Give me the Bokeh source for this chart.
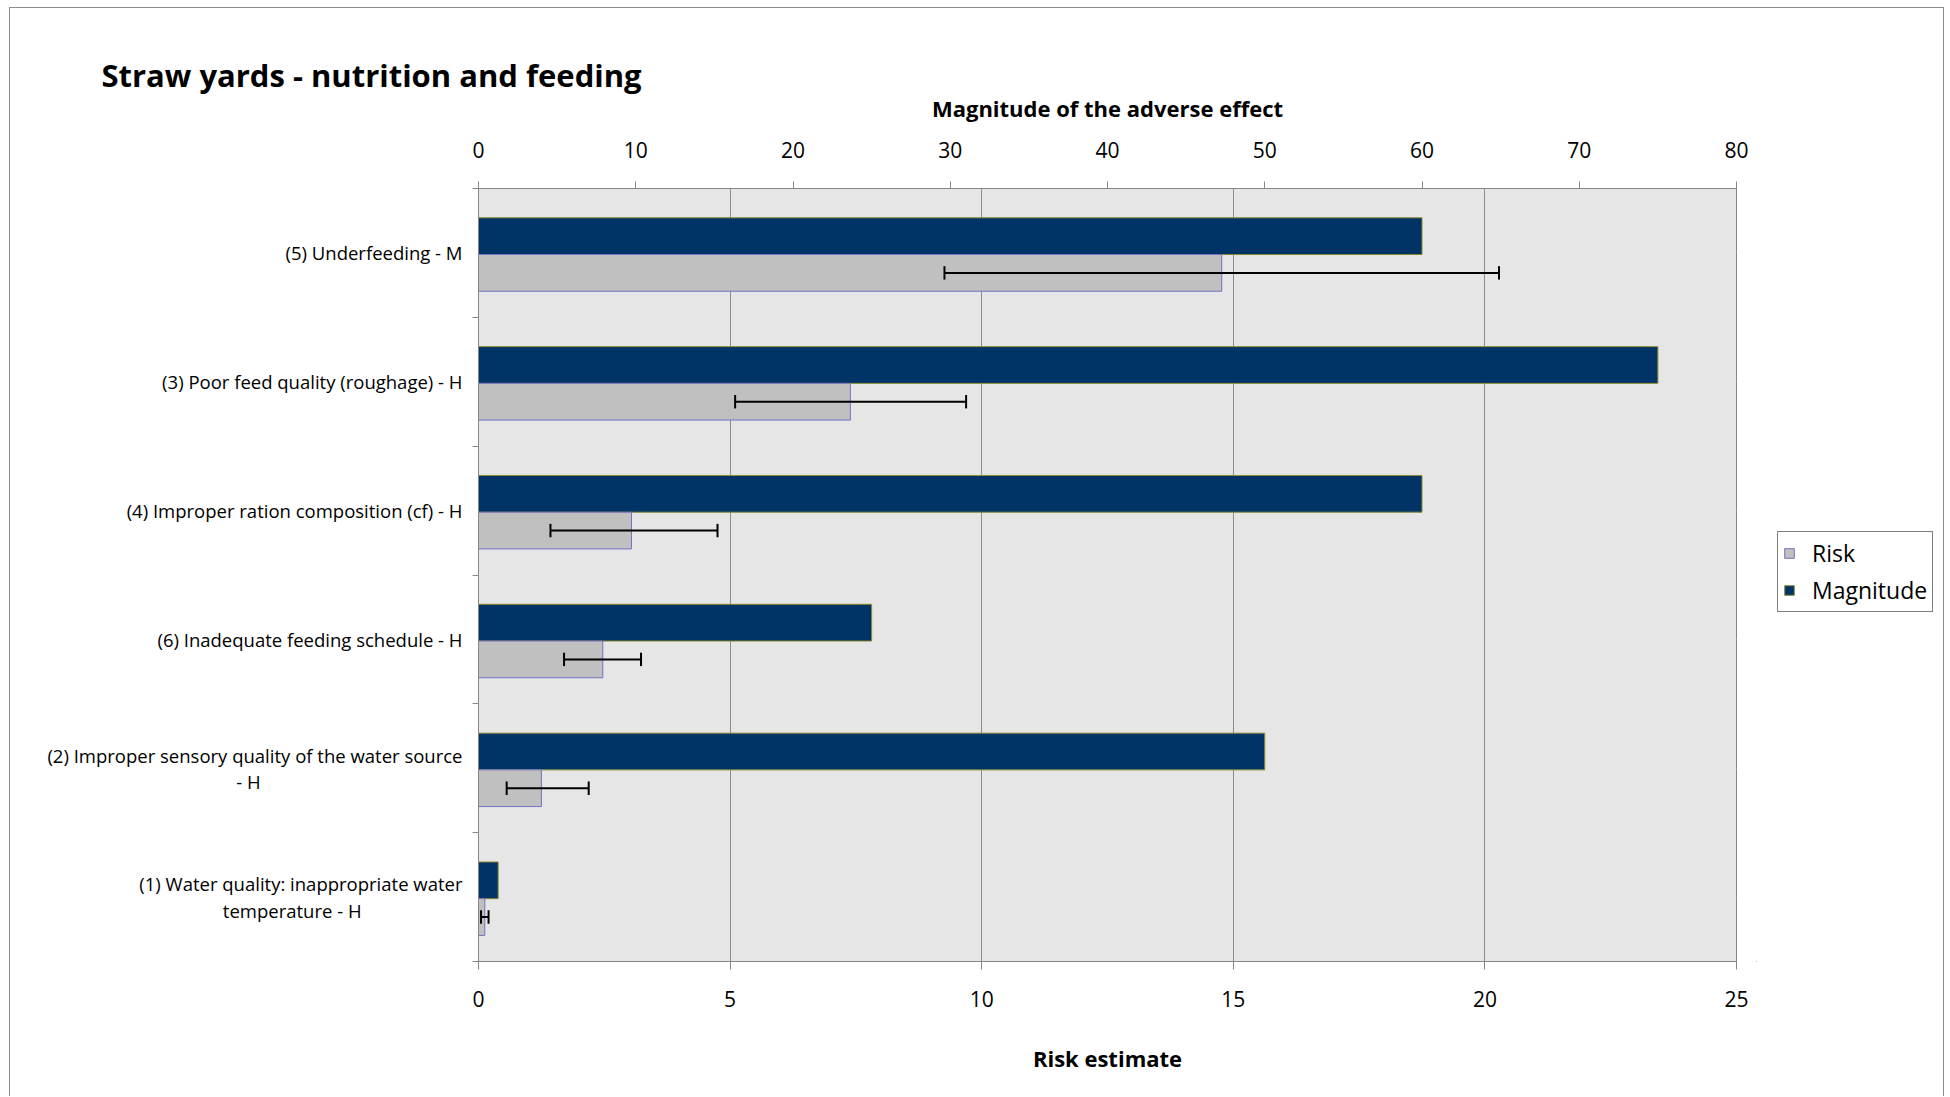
from bokeh.plotting import figure
from bokeh.layouts import row
from bokeh.models import (Range1d, FactorRange, LinearAxis, CategoricalAxis, FixedTicker,
                          Grid, Legend, LegendItem, ColumnDataSource)
from bokeh.transform import dodge
from bokeh.embed import file_html
from bokeh.resources import INLINE

# ---- data (top to bottom as shown) ----
categories = [
    "(5) Underfeeding - M",
    "(3) Poor feed quality (roughage) - H",
    "(4) Improper ration composition (cf) - H",
    "(6) Inadequate feeding schedule - H",
    "(2) Improper sensory quality of the water source\n- H",
    "(1) Water quality: inappropriate water\ntemperature - H",
]
magnitude = [60, 75, 60, 25, 50, 1.25]
risk = [14.77, 7.39, 3.04, 2.47, 1.25, 0.125]
risk_lower = [9.26, 5.10, 1.43, 1.70, 0.56, 0.05]
risk_upper = [20.28, 9.69, 4.75, 3.23, 2.19, 0.20]
risk_ticks = [0, 5, 10, 15, 20, 25]
magnitude_ticks = [0, 10, 20, 30, 40, 50, 60, 70, 80]
series_names = ["Risk", "Magnitude"]

FONT = "Open Sans"
AXIS_GRAY = "#868686"
MAG_FILL, MAG_LINE = "#003366", "#8a8a30"
RISK_FILL, RISK_LINE = "#c0c0c0", "#7272c4"


def centered_lines(label, factor=1.85):
    """Pad shorter lines with no-break spaces so wrapped lines look centred."""
    lines = label.split("\n")
    if len(lines) == 1:
        return label
    longest = max(len(s) for s in lines)
    return "\n".join(s + "\u00a0" * int(round((longest - len(s)) / 2 * factor)) for s in lines)


shown = [centered_lines(c) for c in categories]
src = ColumnDataSource(dict(cat=shown, mag=magnitude, risk=risk,
                            lo=risk_lower, hi=risk_upper))

H = 1088
LEFT, TOP = 468, 180
FW, FH = 1258, 773
RIGHT = 20
W1 = LEFT + FW + RIGHT
W2 = 1933 - W1

p = figure(width=W1, height=H, output_backend="svg", toolbar_location=None,
           x_range=Range1d(risk_ticks[0], risk_ticks[-1]),
           y_range=FactorRange(factors=shown[::-1], range_padding=0),
           x_axis_location=None, y_axis_location=None,
           title="Straw yards - nutrition and feeding",
           min_border_left=LEFT, min_border_top=TOP,
           min_border_right=RIGHT, min_border_bottom=H - TOP - FH,
           background_fill_color="#e6e6e6", border_fill_color="white",
           outline_line_color=AXIS_GRAY)

p.extra_x_ranges = {"mag": Range1d(magnitude_ticks[0], magnitude_ticks[-1])}

# title
p.title.text_font = FONT
p.title.text_font_size = "31px"
p.title.text_font_style = "bold"
p.title.text_color = "black"
p.title.align = "left"
p.title.offset = -377
p.title.standoff = -12

# grid (vertical lines at risk ticks)
p.add_layout(Grid(dimension=0, ticker=FixedTicker(ticks=risk_ticks),
                  grid_line_color="#8c8c8c", grid_line_width=1))

# bars
p.hbar(y=dodge("cat", 0.13, range=p.y_range), left=0, right="mag", height=0.285,
       source=src, x_range_name="mag", fill_color=MAG_FILL, line_color=MAG_LINE, line_width=1)
p.hbar(y=dodge("cat", -0.155, range=p.y_range), left=0, right="risk", height=0.285,
       source=src, fill_color=RISK_FILL, line_color=RISK_LINE, line_width=1)

# error bars
p.segment(x0="lo", x1="hi", y0=dodge("cat", -0.155, range=p.y_range),
          y1=dodge("cat", -0.155, range=p.y_range), source=src, line_color="black", line_width=2)
for xs in ("lo", "hi"):
    p.segment(x0=xs, x1=xs, y0=dodge("cat", -0.207, range=p.y_range),
              y1=dodge("cat", -0.103, range=p.y_range), source=src,
              line_color="black", line_width=2)

# bottom axis (risk)
bax = LinearAxis(ticker=FixedTicker(ticks=risk_ticks), axis_label="Risk estimate",
                 axis_line_color=AXIS_GRAY, major_tick_line_color=AXIS_GRAY,
                 major_tick_out=8, major_tick_in=0, minor_tick_line_color=None,
                 major_label_text_font=FONT, major_label_text_font_size="21px",
                 major_label_text_color="black", major_label_standoff=21,
                 axis_label_text_font=FONT, axis_label_text_font_size="22px",
                 axis_label_text_font_style="bold", axis_label_text_color="black",
                 axis_label_standoff=33)
p.add_layout(bax, "below")

# top axis (magnitude)
tax = LinearAxis(x_range_name="mag", ticker=FixedTicker(ticks=magnitude_ticks),
                 axis_label="Magnitude of the adverse effect",
                 axis_line_color=AXIS_GRAY, major_tick_line_color=AXIS_GRAY,
                 major_tick_out=7, major_tick_in=0, minor_tick_line_color=None,
                 major_label_text_font=FONT, major_label_text_font_size="21px",
                 major_label_text_color="black", major_label_standoff=24,
                 axis_label_text_font=FONT, axis_label_text_font_size="22px",
                 axis_label_text_font_style="bold", axis_label_text_color="black",
                 axis_label_text_line_height=0.85,
                 axis_label_standoff=16)
p.add_layout(tax, "above")

# left: tick marks at category boundaries (synthetic coordinates of the factor range)
bound_ticks = list(range(len(categories) + 1))
lax = LinearAxis(ticker=FixedTicker(ticks=bound_ticks),
                 axis_line_color=AXIS_GRAY, major_tick_line_color=AXIS_GRAY,
                 major_tick_out=6, major_tick_in=0, minor_tick_line_color=None,
                 major_label_overrides={t: "" for t in bound_ticks},
                 major_label_standoff=0)
p.add_layout(lax, "left")

# left: category labels
cax = CategoricalAxis(axis_line_color=None, major_tick_line_color=None,
                      major_tick_out=0, major_tick_in=0,
                      major_label_text_font=FONT, major_label_text_font_size="18.5px",
                      major_label_text_line_height=1.05,
                      major_label_text_color="black", major_label_standoff=10)
p.add_layout(cax, "left")

# legend panel (separate canvas to the right of the chart; frames are aligned by the row)
lf = figure(width=W2, height=H, output_backend="svg", toolbar_location=None,
            x_range=Range1d(0, 1), y_range=Range1d(0, 1),
            x_axis_location=None, y_axis_location=None,
            min_border_left=0, min_border_right=0, min_border_top=0, min_border_bottom=0,
            background_fill_color="white", border_fill_color="white",
            outline_line_color=None)
lf.grid.visible = False
# off-screen proxies that only supply the legend swatches
proxy = ColumnDataSource(dict(y=[-5], left=[-5], right=[-4]))
leg_risk = lf.hbar(y="y", left="left", right="right", height=0.1, source=proxy,
                   fill_color=RISK_FILL, line_color=RISK_LINE)
leg_mag = lf.hbar(y="y", left="left", right="right", height=0.1, source=proxy,
                  fill_color=MAG_FILL, line_color=MAG_LINE)
legend = Legend(items=[LegendItem(label=series_names[0], renderers=[leg_risk]),
                       LegendItem(label=series_names[1], renderers=[leg_mag])],
                location=(21, 349), margin=0, padding=5, spacing=5,
                glyph_width=12, glyph_height=12, label_standoff=17, label_height=20,
                label_text_font=FONT, label_text_font_size="23px",
                label_text_line_height=0.85, label_text_color="black",
                border_line_color="black", border_line_width=1,
                background_fill_color="white", background_fill_alpha=1)
lf.add_layout(legend, "center")

layout = row(p, lf, spacing=0)
layout.styles = {"border": "1px solid #8c8c8c", "border-bottom": "none",
                 "margin-left": "9px", "margin-top": "7px"}

open("out.html", "w").write(file_html(layout, INLINE))
